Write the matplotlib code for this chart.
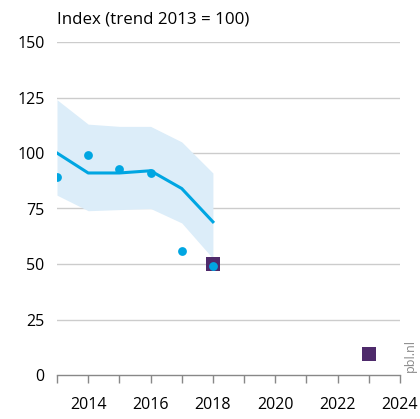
import matplotlib
matplotlib.use('Agg')
import matplotlib.pyplot as plt

plt.rcParams['font.family'] = ['Open Sans', 'DejaVu Sans']

# trend en onzekerheidsband
years = [2013, 2014, 2015, 2016, 2017, 2018]
trend = [100, 91, 91, 92, 84, 69]
band_upper = [124, 113, 112, 112, 105, 91]
band_lower = [81, 74, 74.5, 75, 68.5, 52.5]

# gemeten waarden
obs_years = [2013, 2014, 2015, 2016, 2017, 2018]
obs_values = [89, 99, 93, 91, 56, 49]

# doelen
target_years = [2018, 2023]
target_values = [50, 9.5]

yticks = [0, 25, 50, 75, 100, 125, 150]
xlabel_years = [2014, 2016, 2018, 2020, 2022, 2024]

blue = '#00a6e2'
band_col = '#dcedf9'
purple = '#4e2a6b'

fig = plt.figure(figsize=(4.2, 4.19), dpi=100)
ax = fig.add_axes([57 / 420, 44 / 419, 343 / 420, 333 / 419])

ax.fill_between(years, band_lower, band_upper, color=band_col, lw=0, zorder=1)
ax.plot(years, trend, color=blue, lw=2.2, zorder=3)
ax.scatter(target_years, target_values, marker='s', s=110, color=purple, zorder=4, lw=0)
ax.scatter(obs_years, obs_values, s=40, color=blue, zorder=5, lw=0)

ax.set_xlim(2013, 2024)
ax.set_ylim(0, 150)
ax.set_yticks(yticks)
ax.set_yticklabels([str(v) for v in yticks])
for v in yticks[1:]:
    ax.axhline(v, color='#cccccc', lw=1, zorder=0)

ax.set_xticks(range(2013, 2025))
ax.set_xticklabels([str(y) if y in xlabel_years else '' for y in range(2013, 2025)])

for s in ['top', 'right', 'left']:
    ax.spines[s].set_visible(False)
ax.spines['bottom'].set_color('#888888')
ax.spines['bottom'].set_linewidth(1)
ax.tick_params(axis='x', length=6, color='#888888', width=1, labelsize=11.5, pad=10)
ax.tick_params(axis='y', length=0, labelsize=11.5, pad=9)

fig.text(57 / 420, 1 - 20 / 419, 'Index (trend 2013 = 100)', fontsize=12.2,
         va='center', ha='left')
fig.text(410 / 420, 1 - 372 / 419, 'pbl.nl', rotation=90, fontsize=9,
         color='#888888', va='bottom', ha='center')

fig.savefig('out.png', dpi=100)
